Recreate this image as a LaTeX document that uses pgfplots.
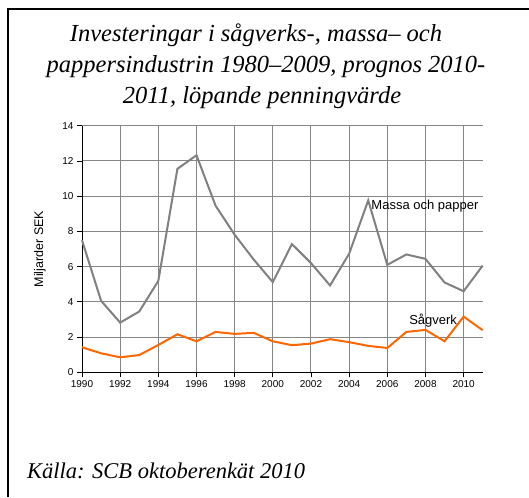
\documentclass[border=0pt]{standalone}
\usepackage{pgfplots}
\pgfplotsset{compat=1.18}
\usepackage{fontspec}
\setmainfont{Liberation Sans}
\newfontfamily\timesfont{Liberation Serif}
\definecolor{massagray}{RGB}{128,128,128}
\definecolor{sagorange}{RGB}{255,102,0}
\definecolor{gridgray}{RGB}{134,134,134}

\begin{document}
\begin{tikzpicture}[x=1pt,y=1pt]
\useasboundingbox (0,0) rectangle (529,497);
% slide frame (top and left edges)
\draw[line width=2pt] (7.5,0) -- (7.5,488) -- (529,488);

% title
\node[anchor=base, font=\timesfont\itshape\fontsize{24.5}{28}\selectfont] at (256,455) {Investeringar i sågverks-, massa– och};
\node[anchor=base, font=\timesfont\itshape\fontsize{24.5}{28}\selectfont] at (266,424) {pappersindustrin 1980–2009, prognos 2010-};
\node[anchor=base, font=\timesfont\itshape\fontsize{24.5}{28}\selectfont] at (262,393) {2011, löpande penningvärde};

% source
\node[anchor=base west, inner sep=0pt, font=\timesfont\itshape\fontsize{22.5}{26}\selectfont] at (27,19) {Källa: SCB oktoberenkät 2010};

\begin{axis}[
    at={(82pt,124.7pt)}, anchor=south west,
    scale only axis,
    width=400.7pt, height=246.6pt,
    xmin=1990, xmax=2011,
    ymin=0, ymax=14,
    xtick={1990,1992,...,2010},
    ytick={0,2,...,14},
    axis x line*=bottom,
    axis y line*=left,
    axis line style={black, line width=1pt, -},
    tick style={black, line width=0.8pt},
    tick align=outside,
    major tick length=5pt,
    xmajorgrids, ymajorgrids,
    major grid style={gridgray, line width=1pt},
    tick label style={font=\fontsize{10}{12}\selectfont},
    /pgf/number format/assume math mode=true,
    /pgf/number format/1000 sep={},
    ylabel={Miljarder SEK},
    ylabel style={font=\fontsize{12.5}{14}\selectfont, at={(axis description cs:-0.105,0.5)}, anchor=center},
    clip=false,
]
\addplot[massagray, line width=2pt] coordinates {
    (1990,7.5) (1991,4.06) (1992,2.82) (1993,3.45) (1994,5.19)
    (1995,11.55) (1996,12.32) (1997,9.46) (1998,7.81) (1999,6.4)
    (2000,5.12) (2001,7.28) (2002,6.2) (2003,4.93) (2004,6.73)
    (2005,9.76) (2006,6.1) (2007,6.69) (2008,6.44) (2009,5.1)
    (2010,4.6) (2011,6.06)
};
\addplot[sagorange, line width=2pt] coordinates {
    (1990,1.42) (1991,1.08) (1992,0.85) (1993,0.98) (1994,1.55)
    (1995,2.16) (1996,1.76) (1997,2.29) (1998,2.18) (1999,2.24)
    (2000,1.76) (2001,1.54) (2002,1.63) (2003,1.88) (2004,1.71)
    (2005,1.5) (2006,1.38) (2007,2.29) (2008,2.41) (2009,1.76)
    (2010,3.16) (2011,2.39)
};
\node[anchor=west, inner sep=0pt, font=\fontsize{13}{15}\selectfont] at (axis cs:2005.16,9.42) {Massa och papper};
\node[anchor=west, inner sep=0pt, font=\fontsize{13}{15}\selectfont] at (axis cs:2007.14,2.93) {Sågverk};
\end{axis}
\end{tikzpicture}
\end{document}
